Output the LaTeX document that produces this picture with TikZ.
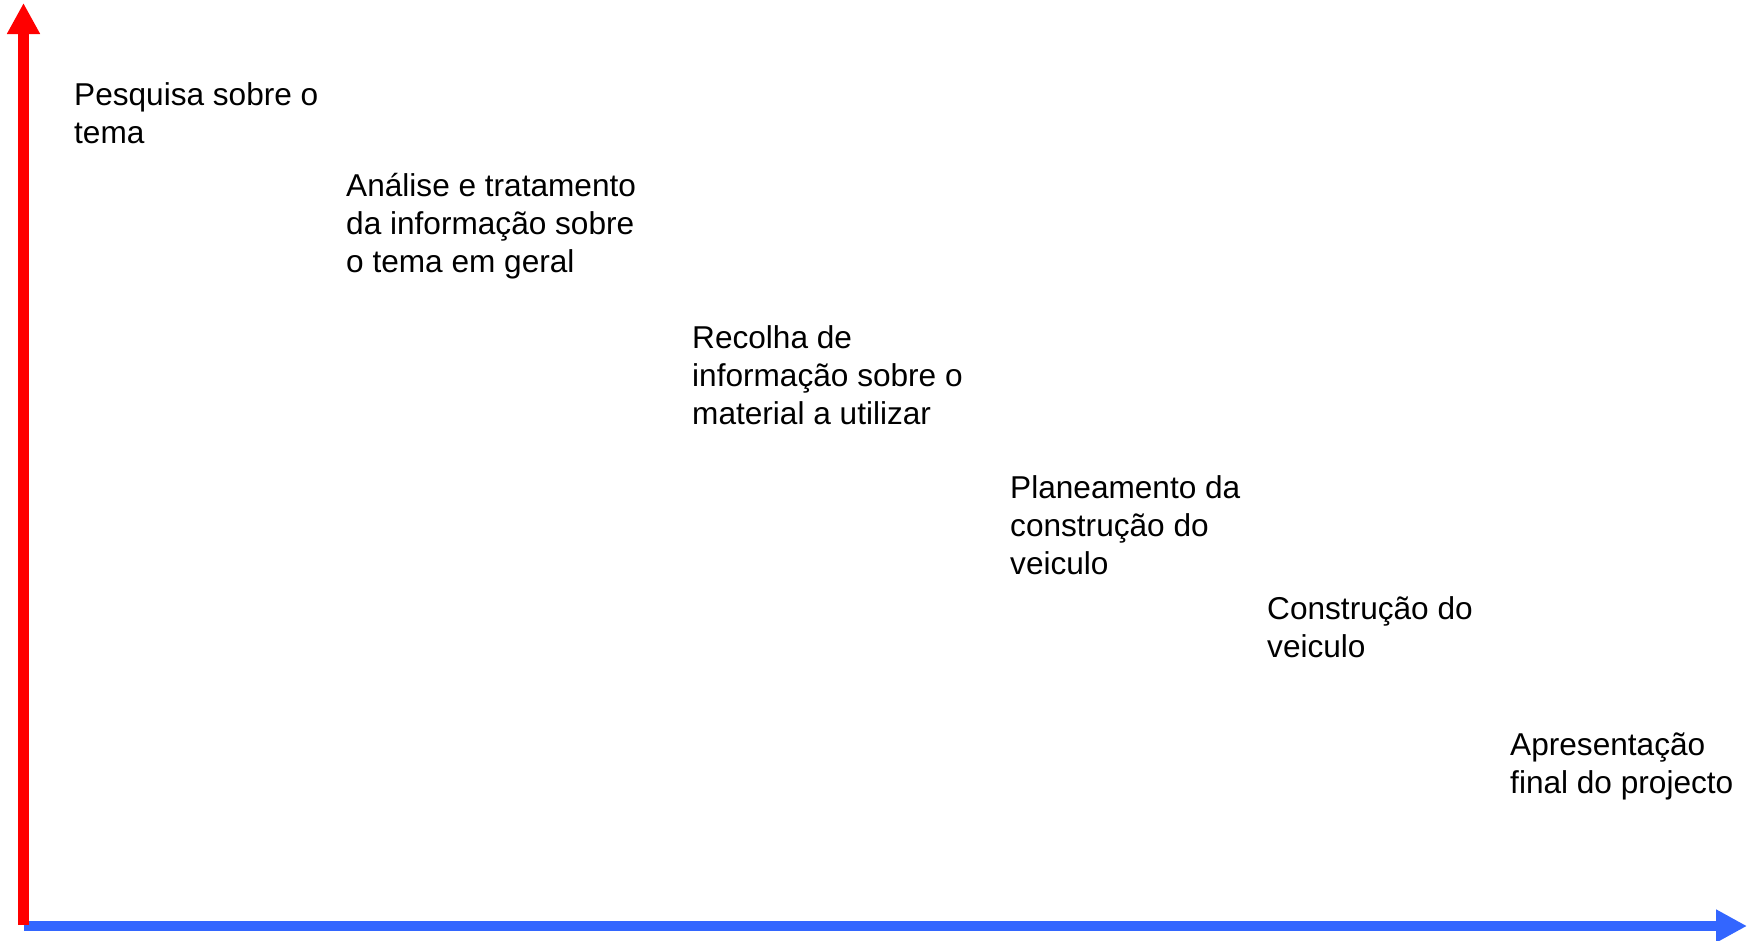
\documentclass[tikz,border=0pt]{standalone}
\usepackage{fontspec}
\setmainfont{Liberation Sans}
\usetikzlibrary{arrows.meta}
\definecolor{axisred}{RGB}{255,0,0}
\definecolor{axisblue}{RGB}{51,102,255}

\begin{document}
\begin{tikzpicture}[x=1pt,y=-1pt,
    phase/.style={anchor=base west, align=left, inner sep=0pt,
      font=\fontsize{31.6}{38}\selectfont},
    axis/.style={line width=11pt, -{Triangle[length=31pt,width=31pt]}}]
  \useasboundingbox (0,0) rectangle (1751,940);
  % axes
  \coordinate (origin) at (23.5,926);
  \coordinate (timeend) at (1747,926);
  \coordinate (worktop) at (23.5,3);
  \draw [axis, axisblue, line width=10pt, shorten <=0.5pt] (origin) -- (timeend);
  \draw [axis, axisred] (23.5,925) coordinate (redfoot) -- (worktop);
  % phases (placed at the baseline of their last line)
  \node [phase] (pesquisa) at (74,143) {Pesquisa sobre o\\tema};
  \node [phase] (analise) at (346,272) {Análise e tratamento\\da informação sobre\\o tema em geral};
  \node [phase] (recolha) at (692,424) {Recolha de\\informação sobre o\\material a utilizar};
  \node [phase] (planeamento) at (1010,574) {Planeamento da\\construção do\\veiculo};
  \node [phase] (construcao) at (1267,657) {Construção do\\veiculo};
  \node [phase] (apresentacao) at (1510,793) {Apresentação\\final do projecto};
\end{tikzpicture}
\end{document}
